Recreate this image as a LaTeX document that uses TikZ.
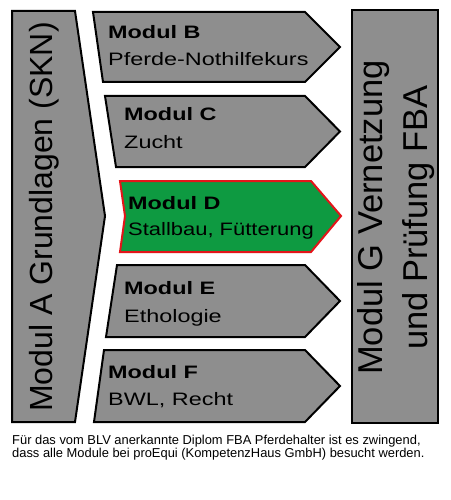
\documentclass[tikz,border=0pt]{standalone}
\usepackage{fontspec}
\setmainfont{Liberation Sans}
\newfontfamily\widefont[FakeStretch=1.3]{Liberation Sans}
\newfontfamily\semiwidefont[FakeStretch=1.22]{Liberation Sans}
\definecolor{modgray}{HTML}{8E8E8E}
\definecolor{modgreen}{HTML}{0E9A41}
\definecolor{modred}{HTML}{E3151A}
\begin{document}
\begin{tikzpicture}[x=1pt,y=-1pt,
  modshape/.style={draw=black,fill=modgray,line width=2pt,line join=miter},
  hishape/.style={draw=modred,fill=modgreen,line width=2pt,line join=miter},
  modtitle/.style={anchor=base west,inner sep=0pt,font=\widefont\fontsize{18}{18}\selectfont\bfseries},
  modsub/.style={anchor=base west,inner sep=0pt,font=\widefont\fontsize{18}{18}\selectfont},
  vtext/.style={rotate=90,inner sep=0pt,align=center}
]
\useasboundingbox[fill=white] (0,0) rectangle (450,500);
% Module A
\draw[modshape] (12,11) -- (75,11) -- (105,216) -- (75,422) -- (12,422) -- cycle;
\node[vtext,anchor=base,font=\fontsize{32}{32}\selectfont] (ta) at (52,217) {Modul A Grundlagen (SKN)};
% Module B
\draw[modshape] (93,12) -- (305,12) -- (340,47) -- (305,82) -- (103,82) -- cycle;
\node[modtitle] (tb) at (108,39) {Modul B};
\node[modsub] (sb) at (108,66) {Pferde-Nothilfekurs};
% Module C
\draw[modshape] (105,96) -- (305,96) -- (340,131.5) -- (305,167) -- (116,167) -- cycle;
\node[modtitle] (tc) at (124,121) {Modul C};
\node[modsub] (sc) at (124,148) {Zucht};
% Module D
\draw[hishape] (120,181) -- (311,181) -- (341,216) -- (311,252) -- (120,252) -- (125,216) -- cycle;
\node[modtitle] (td) at (128,209) {Modul D};
\node[modsub,font=\semiwidefont\fontsize{18}{18}\selectfont] (sd) at (128,235) {Stallbau, Fütterung};
% Module E
\draw[modshape] (117,265) -- (305,265) -- (340,301) -- (305,337) -- (106,337) -- cycle;
\node[modtitle] (te) at (124,294) {Modul E};
\node[modsub] (se) at (124,322) {Ethologie};
% Module F
\draw[modshape] (104,350) -- (305,350) -- (340,386) -- (305,422) -- (94,422) -- cycle;
\node[modtitle] (tf) at (108,378) {Modul F};
\node[modsub] (sf) at (108,405) {BWL, Recht};
% Module G
\draw[modshape] (352,10) rectangle (438,423);
\node[vtext,anchor=center,font=\fontsize{34.5}{45}\selectfont] (tg) at (396.5,217.5) {Modul G Vernetzung\\und Prüfung FBA};
% caption
\node[anchor=base west,inner sep=0pt] (cap1) at (12,444) {\fontsize{12.9}{13}\selectfont Für das vom BLV anerkannte Diplom FBA Pferdehalter ist es zwingend,};
\node[anchor=base west,inner sep=0pt] (cap2) at (12,457) {\fontsize{12.9}{13}\selectfont dass alle Module bei proEqui (KompetenzHaus GmbH) besucht werden.};
\end{tikzpicture}
\end{document}
